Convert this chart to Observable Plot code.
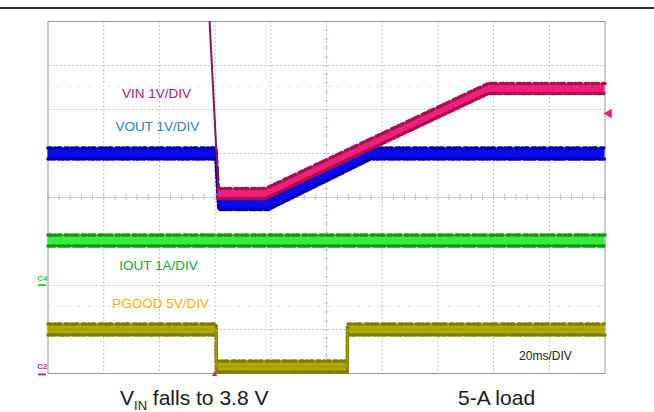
<!DOCTYPE html>
<html><head><meta charset="utf-8">
<script src="https://cdn.jsdelivr.net/npm/d3@7"></script>
<script src="https://cdn.jsdelivr.net/npm/@observablehq/plot@0.6"></script>
<style>
body{margin:0;background:#fff;font-family:"Liberation Sans",Arial,sans-serif;}
#wrap{position:relative;width:654px;height:412px;overflow:hidden}
#topline{position:absolute;left:0;top:7px;width:654px;height:2px;background:#2b2b2b}
.cap{position:absolute;font-size:21px;line-height:21px;color:#1a1a1a;white-space:nowrap}
.cap sub{font-size:13px;vertical-align:-5px;line-height:0}
</style></head><body>
<div id="wrap"><div id="chart"></div><div id="topline"></div>
<div class="cap" style="left:120px;top:387px">V<sub>IN</sub> falls to 3.8 V</div>
<div class="cap" style="left:458px;top:387px">5-A load</div>
</div>
<script>
// time in ms (20 ms/DIV), level in scope divisions (0 = bottom, 8 = top)
const gridTimeMs = [0, 20, 40, 60, 80, 100, 120, 140, 160, 180, 200];
const gridDiv = [0, 1, 2, 3, 4, 5, 6, 7, 8];

const vinFallT = [57.9, 61.2];
const vinFallDiv = [8.14, 4.16];
const vinT = [61.0, 78.1, 158.2, 200];
const vinDiv = [4.09, 4.09, 6.48, 6.48];

const voutT = [0, 60.3, 61.3, 79.0, 115.8, 200];
const voutDiv = [5.0, 5.0, 3.85, 3.85, 5.0, 5.0];

const ioutT = [0, 200];
const ioutDiv = [3.02, 3.02];

const pgoodT = [0, 60.4, 60.4, 107.5, 107.5, 200];
const pgoodDiv = [1.0, 1.0, 0.16, 0.16, 1.0, 1.0];

const channelLabels = ["VIN 1V/DIV", "VOUT 1V/DIV", "IOUT 1A/DIV", "PGOOD 5V/DIV"];
const timebaseLabel = "20ms/DIV";
const groundMarkers = ["C4", "C2"];

const PX_PER_DIV = 44;
function rows(T, V) { return T.map((t, i) => ({t, v: V[i]})); }
function band(T, V, halfPx, fill, edge) {
  const h = halfPx / PX_PER_DIV;
  const data = rows(T, V);
  return [
    Plot.areaY(data, {x: "t", y1: d => d.v - h, y2: d => d.v + h, fill, curve: "linear"}),
    Plot.line(data, {x: "t", y: d => d.v + h, stroke: edge, strokeWidth: 3.5, strokeDasharray: "1 1.5 1 3 1 2.5 1 1 1 4"}),
    Plot.line(data, {x: "t", y: d => d.v - h, stroke: edge, strokeWidth: 3.5, strokeDasharray: "1 2.5 1 1.5 1 3 1 2 1 1"})
  ];
}
const minorX = d3.range(0, 201, 4);
const minorY = d3.range(0, 8.01, 0.2);

const chart = Plot.plot({
  width: 654, height: 380,
  marginLeft: 47.5, marginRight: 49.5, marginTop: 21, marginBottom: 7,
  x: {domain: [0, 200], axis: null},
  y: {domain: [0, 8], axis: null},
  style: {fontFamily: "'Liberation Sans', Arial, sans-serif", background: "white"},
  marks: [
    Plot.ruleX(gridTimeMs.slice(1, -1), {stroke: "#c2c2c2", strokeDasharray: "2 2"}),
    Plot.ruleY(gridDiv.slice(1, -1), {stroke: "#c2c2c2", strokeDasharray: "2 2"}),
    Plot.ruleY([4], {stroke: "#cdcdcd"}),
    Plot.ruleY([6.52, 1.52], {stroke: "#dedede", strokeDasharray: "3 7"}),
    Plot.ruleX(minorX, {x: d => d, y1: 3.93, y2: 4.07, stroke: "#c4c4c4"}),
    Plot.ruleY(minorY, {y: d => d, x1: 99.2, x2: 100.8, stroke: "#c4c4c4"}),
    Plot.frame({stroke: "#9a9a9a"}),
    ...band(ioutT, ioutDiv, 5.5, "#3cec3c", "#0e9a0e"),
    ...band(pgoodT, pgoodDiv, 5.5, "#b2aa00", "#807a00"),
    Plot.line(rows(pgoodT, pgoodDiv), {x: "t", y: "v", stroke: "#a59d00", strokeWidth: 1.5}),
    ...band(voutT, voutDiv, 5.5, "#0a0af2", "#0000a8"),
    Plot.line(rows(vinFallT, vinFallDiv), {x: "t", y: "v", stroke: "#8c1550", strokeWidth: 2, clip: true}),
    ...band(vinT, vinDiv, 5, "#f0207a", "#a8104f"),
    Plot.text([channelLabels[0]], {x: 39.0, y: 6.37, text: d => d, fill: "#a3199c", fontSize: 13.5}),
    Plot.text([channelLabels[1]], {x: 39.3, y: 5.62, text: d => d, fill: "#1f7ed0", fontSize: 13.5}),
    Plot.text([channelLabels[2]], {x: 39.7, y: 2.45, text: d => d, fill: "#12a54a", fontSize: 13.5}),
    Plot.text([channelLabels[3]], {x: 40.4, y: 1.59, text: d => d, fill: "#f2b200", fontSize: 13.5}),
    Plot.text([timebaseLabel], {x: 178.6, y: 0.39, text: d => d, fill: "#222", fontSize: 12}),
    Plot.text([groundMarkers[0]], {x: -2.0, y: 2.16, text: d => d, fill: "#33cc33", fontSize: 8, fontWeight: "bold"}),
    Plot.ruleY([2.01], {x1: -3.4, x2: -0.6, stroke: "#33cc33", strokeWidth: 2}),
    Plot.text([groundMarkers[1]], {x: -2.0, y: 0.16, text: d => d, fill: "#cc2288", fontSize: 8, fontWeight: "bold"}),
    Plot.ruleY([-0.02], {x1: -3.4, x2: -0.6, stroke: "#cc2288", strokeWidth: 2}),
    Plot.dot([5.91], {x: 200, y: d => d, dx: 4, symbol: "triangle", rotate: -90, r: 3.5, fill: "#e0207a", stroke: null}),
    Plot.dot([0], {x: 59.8, y: d => d, dy: 1, symbol: "triangle", r: 2, fill: "#e0207a", stroke: null})
  ]
});
document.getElementById("chart").appendChild(chart);
</script>
</body></html>
